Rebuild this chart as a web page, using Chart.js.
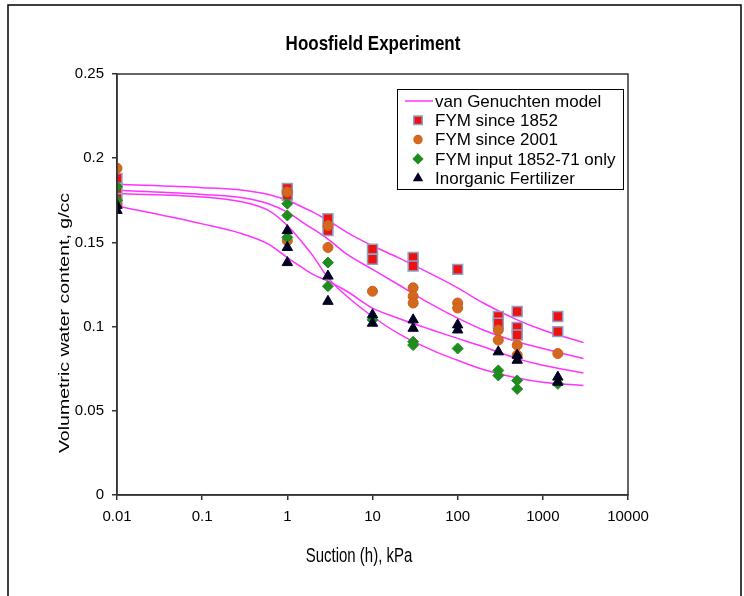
<!DOCTYPE html>
<html>
<head>
<meta charset="utf-8">
<script src="https://cdn.jsdelivr.net/npm/chart.js@4"></script>
<style>
  html, body { margin: 0; padding: 0; background: #fff; }
  #wrap { width: 744px; height: 596px; }
</style>
</head>
<body>
<div id="wrap"><canvas id="chart" width="744" height="596"></canvas></div>
<script>
// axis ticks
const xTicks = [0.01, 0.1, 1, 10, 100, 1000, 10000];
const xTickLabels = ['0.01', '0.1', '1', '10', '100', '1000', '10000'];
const yTicks = [0, 0.05, 0.1, 0.15, 0.2, 0.25];
const yTickLabels = ['0', '0.05', '0.1', '0.15', '0.2', '0.25'];

// van Genuchten fitted curves
const curveX = [0.01, 0.1, 0.3, 0.6, 1, 1.5, 2, 3, 5, 10, 20, 50, 100, 200, 500, 1000, 3000];
const fitFym1852 = [0.1845, 0.1825, 0.181, 0.1785, 0.175, 0.171, 0.168, 0.163, 0.156, 0.148, 0.141, 0.131, 0.123, 0.114, 0.104, 0.098, 0.0905];
const fitFym2001 = [0.181, 0.1785, 0.1765, 0.173, 0.168, 0.162, 0.158, 0.152, 0.143, 0.134, 0.125, 0.113, 0.105, 0.098, 0.091, 0.087, 0.081];
const fitFymInput = [0.179, 0.177, 0.174, 0.169, 0.160, 0.150, 0.142, 0.129, 0.118, 0.106, 0.096, 0.086, 0.080, 0.0745, 0.0695, 0.067, 0.065];
const fitInorganic = [0.1716, 0.161, 0.155, 0.149, 0.141, 0.135, 0.131, 0.127, 0.121, 0.111, 0.105, 0.098, 0.093, 0.088, 0.081, 0.077, 0.0724];

// measured points
const fym1852X = [0.01, 0.01, 0.01, 1, 1, 3, 3, 10, 10, 30, 30, 100, 300, 300, 500, 500, 500, 1500, 1500];
const fym1852Y = [0.188, 0.182, 0.176, 0.182, 0.178, 0.164, 0.157, 0.146, 0.140, 0.141, 0.136, 0.134, 0.106, 0.102, 0.109, 0.0995, 0.095, 0.106, 0.097];

const fym2001X = [0.01, 0.01, 1, 1, 3, 3, 10, 30, 30, 30, 100, 100, 300, 300, 500, 500, 1500];
const fym2001Y = [0.194, 0.172, 0.180, 0.151, 0.160, 0.147, 0.121, 0.123, 0.118, 0.114, 0.114, 0.111, 0.098, 0.092, 0.089, 0.083, 0.084];

const fymInputX = [0.01, 0.01, 1, 1, 1, 3, 3, 10, 30, 30, 100, 300, 300, 500, 500, 1500];
const fymInputY = [0.183, 0.175, 0.173, 0.166, 0.153, 0.138, 0.124, 0.104, 0.091, 0.089, 0.087, 0.074, 0.071, 0.068, 0.063, 0.066];

const inorganicX = [0.01, 0.01, 1, 1, 1, 3, 3, 10, 10, 30, 30, 100, 100, 300, 500, 500, 1500, 1500];
const inorganicY = [0.172, 0.169, 0.157, 0.147, 0.138, 0.130, 0.115, 0.107, 0.102, 0.104, 0.099, 0.101, 0.098, 0.085, 0.083, 0.080, 0.070, 0.067];

const FONT = "'Liberation Sans', Arial, sans-serif";
const LINE_COLOR = '#ff33ff';
const RED = '#ee1111', RED_EDGE = '#8aa4c8';
const ORANGE = '#d5681f';
const GREEN = '#1e8c1e';
const NAVY = '#000022';

function pts(xs, ys) {
    return xs.map((x, i) => ({ x: x, y: ys[i] }));
}

function fitLine(ys) {
    return {
        data: pts(curveX, ys),
        showLine: true,
        borderColor: LINE_COLOR,
        borderWidth: 1.5,
        pointRadius: 0,
        cubicInterpolationMode: 'monotone',
        order: 5
    };
}

// the source picture is a bit stretched vertically, so its text is too
function stretchedText(ctx, text, x, y, sx, sy, rot) {
    ctx.save();
    ctx.translate(x, y);
    if (rot) ctx.rotate(rot);
    ctx.scale(sx, sy);
    ctx.fillText(text, 0, 0);
    ctx.restore();
}

// frame, plot box, titles and boxed legend
const decorations = {
    id: 'decorations',
    beforeDraw(chart) {
        const ctx = chart.ctx;
        ctx.save();
        ctx.fillStyle = '#fff';
        ctx.fillRect(0, 0, chart.width, chart.height);
        ctx.strokeStyle = '#000';
        ctx.lineWidth = 1.5;
        ctx.beginPath();
        ctx.moveTo(8, 596);
        ctx.lineTo(8, 5);
        ctx.lineTo(741, 5);
        ctx.lineTo(741, 596);
        ctx.stroke();
        ctx.restore();
    },
    afterDraw(chart) {
        const ctx = chart.ctx;
        const a = chart.chartArea;
        ctx.save();
        ctx.strokeStyle = '#333';
        ctx.lineWidth = 1.5;
        ctx.strokeRect(a.left, a.top, a.right - a.left, a.bottom - a.top);

        ctx.fillStyle = '#000';
        ctx.textAlign = 'center';
        ctx.textBaseline = 'middle';
        ctx.font = 'bold 17px ' + FONT;
        stretchedText(ctx, 'Hoosfield Experiment', 373, 44, 1, 1.2, 0);

        ctx.font = '15px ' + FONT;
        stretchedText(ctx, 'Suction (h), kPa', 359, 557, 1, 1.3, 0);
        stretchedText(ctx, 'Volumetric water content, g/cc', 65, 323, 1.3, 1, -Math.PI / 2);

        // legend
        const lx = 397, ly = 89, lw = 226, lh = 100;
        ctx.fillStyle = '#fff';
        ctx.fillRect(lx, ly, lw, lh);
        ctx.strokeStyle = '#000';
        ctx.lineWidth = 1;
        ctx.strokeRect(lx + 0.5, ly + 0.5, lw, lh);

        const rows = [
            { text: 'van Genuchten model', kind: 'line' },
            { text: 'FYM since 1852', kind: 'rect', fill: RED, edge: RED_EDGE, r: 6 },
            { text: 'FYM since 2001', kind: 'circle', fill: ORANGE, edge: ORANGE, r: 4 },
            { text: 'FYM input 1852-71 only', kind: 'rectRot', fill: GREEN, edge: GREEN, r: 4.5 },
            { text: 'Inorganic Fertilizer', kind: 'triangle', fill: NAVY, edge: NAVY, r: 4.5 }
        ];
        ctx.font = '17px ' + FONT;
        ctx.textAlign = 'left';
        rows.forEach((r, i) => {
            const y = 101 + i * 19.3;
            if (r.kind === 'line') {
                ctx.strokeStyle = LINE_COLOR;
                ctx.lineWidth = 1.5;
                ctx.beginPath();
                ctx.moveTo(405, y);
                ctx.lineTo(433, y);
                ctx.stroke();
            } else {
                ctx.fillStyle = r.fill;
                ctx.strokeStyle = r.edge;
                Chart.helpers.drawPoint(ctx, {
                    pointStyle: r.kind,
                    radius: r.r,
                    borderWidth: 1.2
                }, 418, y);
            }
            ctx.fillStyle = '#000';
            ctx.fillText(r.text, 435, y + 1);
        });
        ctx.restore();
    }
};

const chart = new Chart(document.getElementById('chart'), {
    type: 'scatter',
    data: {
        datasets: [
            {
                data: pts(inorganicX, inorganicY),
                pointStyle: 'triangle',
                pointRadius: 6,
                backgroundColor: NAVY,
                borderColor: NAVY,
                borderWidth: 1,
                order: 1
            },
            {
                data: pts(fymInputX, fymInputY),
                pointStyle: 'rectRot',
                pointRadius: 5.5,
                backgroundColor: GREEN,
                borderColor: GREEN,
                borderWidth: 1,
                order: 2
            },
            {
                data: pts(fym2001X, fym2001Y),
                pointStyle: 'circle',
                pointRadius: 5,
                backgroundColor: ORANGE,
                borderColor: '#c95f1a',
                borderWidth: 1,
                order: 3
            },
            {
                data: pts(fym1852X, fym1852Y),
                pointStyle: 'rect',
                pointRadius: 7,
                backgroundColor: RED,
                borderColor: RED_EDGE,
                borderWidth: 1.5,
                order: 4
            },
            fitLine(fitFym1852),
            fitLine(fitFym2001),
            fitLine(fitFymInput),
            fitLine(fitInorganic)
        ]
    },
    options: {
        responsive: false,
        animation: false,
        devicePixelRatio: 1,
        layout: { padding: { top: 74, right: 116, left: 0, bottom: 0 } },
        plugins: {
            legend: { display: false },
            tooltip: { enabled: false },
            title: { display: false }
        },
        scales: {
            x: {
                type: 'logarithmic',
                position: 'bottom',
                min: 0.01,
                max: 10000,
                afterBuildTicks: s => { s.ticks = xTicks.map(v => ({ value: v })); },
                afterFit: s => { s.height = 101; },
                grid: { drawOnChartArea: false, tickLength: 5, color: '#333', lineWidth: 1.5 },
                border: { color: '#333', width: 1.5 },
                ticks: {
                    autoSkip: false,
                    maxRotation: 0,
                    padding: 8,
                    color: '#000',
                    font: { family: FONT, size: 15 },
                    callback: (v, i) => xTickLabels[i]
                }
            },
            y: {
                min: 0,
                max: 0.25,
                afterBuildTicks: s => { s.ticks = yTicks.map(v => ({ value: v })); },
                afterFit: s => { s.width = 117; },
                grid: { drawOnChartArea: false, tickLength: 5, color: '#333', lineWidth: 1.5 },
                border: { color: '#333', width: 1.5 },
                ticks: {
                    padding: 8,
                    color: '#000',
                    font: { family: FONT, size: 15 },
                    callback: (v, i) => yTickLabels[i]
                }
            }
        }
    },
    plugins: [decorations]
});
</script>
</body>
</html>
